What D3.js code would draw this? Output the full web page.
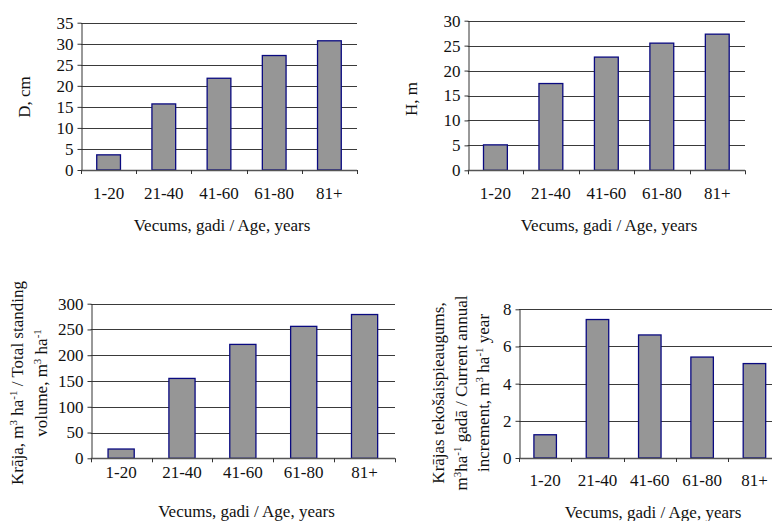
<!DOCTYPE html>
<html>
<head>
<meta charset="utf-8">
<script src="https://cdn.jsdelivr.net/npm/d3@7"></script>
<style>
  body { margin: 0; background: #fff; }
  svg { display: block; }
  text { font-family: "Liberation Serif", "Times New Roman", serif; fill: #111; }
</style>
</head>
<body>
<div id="chart"></div>
<script>
const ageClasses = ["1-20", "21-40", "41-60", "61-80", "81+"];
const diameter = [3.6, 15.7, 21.8, 27.2, 30.7];
const height = [5.1, 17.4, 22.7, 25.5, 27.3];
const volume = [18, 155, 221, 256, 279];
const increment = [1.25, 7.45, 6.62, 5.43, 5.08];

const diameterTicks = [0, 5, 10, 15, 20, 25, 30, 35];
const heightTicks = [0, 5, 10, 15, 20, 25, 30];
const volumeTicks = [0, 50, 100, 150, 200, 250, 300];
const incrementTicks = [0, 2, 4, 6, 8];

const xTitle = "Vecums, gadi / Age, years";
const fontSize = 17;

// each y title is a list of lines, each line a list of [text, isSuperscript]
const panels = [
  { values: diameter, ticks: diameterTicks,
    box: { left: 81, right: 357, top: 22.7, bottom: 170 },
    labelDy: 23, titleDy: 55, titleX: 222,
    yTitle: [[["D, cm", false]]], yTitleX: [24], yTitleY: 97 },
  { values: height, ticks: heightTicks,
    box: { left: 467.7, right: 745, top: 20.7, bottom: 170.3 },
    labelDy: 23, titleDy: 55, titleX: 609,
    yTitle: [[["H, m", false]]], yTitleX: [410.7], yTitleY: 99 },
  { values: volume, ticks: volumeTicks,
    box: { left: 90.7, right: 395, top: 303.7, bottom: 458.3 },
    labelDy: 13.5, titleDy: 53, titleX: 246.5,
    yTitle: [
      [["Krāja, m", false], ["3", true], [" ha", false], ["-1", true], [" / Total standing", false]],
      [["volume, m", false], ["3", true], [" ha", false], ["-1", true]]
    ], yTitleX: [17.5, 41.5], yTitleY: 383 },
  { values: increment, ticks: incrementTicks,
    box: { left: 519, right: 780.6, top: 309.3, bottom: 458 },
    labelDy: 22, titleDy: 53.7, titleX: 653,
    yTitle: [
      [["Krājas tekošaispieaugums,", false]],
      [["m", false], ["3", true], ["ha", false], ["-1", true], [" gadā / Current annual", false]],
      [["increment, m", false], ["3", true], [" ha", false], ["-1", true], ["  year", false]]
    ], yTitleX: [438.5, 461, 483.5], yTitleY: 393 }
];

const svg = d3.select("#chart")
  .append("svg")
  .attr("width", 772)
  .attr("height", 521);

panels.forEach(p => {
  const b = p.box;
  const x = d3.scaleBand()
    .domain(ageClasses)
    .range([b.left, b.right])
    .paddingInner(0.57)
    .paddingOuter(0.285);

  const y = d3.scaleLinear()
    .domain([0, d3.max(p.ticks)])
    .range([b.bottom, b.top]);

  const g = svg.append("g");

  // gridlines
  g.selectAll("line.grid")
    .data(p.ticks.filter(t => t > 0))
    .enter()
    .append("line")
    .attr("class", "grid")
    .attr("x1", b.left)
    .attr("x2", b.right)
    .attr("y1", d => Math.round(y(d)) + 0.5)
    .attr("y2", d => Math.round(y(d)) + 0.5)
    .attr("stroke", "#3a3a3a")
    .attr("stroke-width", 1);

  // bars
  g.selectAll("rect.bar")
    .data(p.values)
    .enter()
    .append("rect")
    .attr("class", "bar")
    .attr("x", (d, i) => x(ageClasses[i]))
    .attr("width", x.bandwidth())
    .attr("y", d => y(d))
    .attr("height", d => y(0) - y(d))
    .attr("fill", "#969696")
    .attr("stroke", "#0a0a80")
    .attr("stroke-width", 1.3);

  // y axis
  const yAxis = g.append("g")
    .attr("transform", `translate(${Math.round(b.left) + 0.5},0)`)
    .call(d3.axisLeft(y).tickValues(p.ticks).tickSize(4).tickPadding(4).tickSizeOuter(0));
  yAxis.select(".domain").attr("stroke", "#333");
  yAxis.selectAll(".tick line").attr("stroke", "#333");
  yAxis.selectAll(".tick text")
    .attr("font-size", fontSize)
    .attr("fill", "#111")
    .attr("font-family", "Liberation Serif, Times New Roman, serif");

  // x axis line with ticks at category boundaries
  g.append("line")
    .attr("x1", b.left)
    .attr("x2", b.right)
    .attr("y1", Math.round(b.bottom) + 0.5)
    .attr("y2", Math.round(b.bottom) + 0.5)
    .attr("stroke", "#555")
    .attr("stroke-width", 1.3);

  const bounds = d3.range(ageClasses.length + 1).map(i => x.range()[0] + i * x.step());
  g.selectAll("line.xtick")
    .data(bounds)
    .enter()
    .append("line")
    .attr("class", "xtick")
    .attr("x1", d => Math.round(d) + 0.5)
    .attr("x2", d => Math.round(d) + 0.5)
    .attr("y1", b.bottom)
    .attr("y2", b.bottom + 4)
    .attr("stroke", "#333");

  g.selectAll("text.xlabel")
    .data(ageClasses)
    .enter()
    .append("text")
    .attr("class", "xlabel")
    .attr("x", d => x(d) + x.bandwidth() / 2)
    .attr("y", b.bottom + p.labelDy)
    .attr("dy", "0.35em")
    .attr("text-anchor", "middle")
    .attr("font-size", fontSize)
    .text(d => d);

  g.append("text")
    .attr("x", p.titleX)
    .attr("y", b.bottom + p.titleDy)
    .attr("dy", "0.35em")
    .attr("text-anchor", "middle")
    .attr("font-size", fontSize)
    .text(xTitle);

  // y title, rotated, possibly multiline with superscripts
  p.yTitle.forEach((line, li) => {
    const t = g.append("text")
      .attr("transform", `translate(${p.yTitleX[li]},${p.yTitleY}) rotate(-90)`)
      .attr("text-anchor", "middle")
      .attr("dy", "0.35em")
      .attr("font-size", fontSize);
    line.forEach(([s, sup]) => {
      t.append("tspan")
        .attr("baseline-shift", sup ? "super" : null)
        .attr("font-size", sup ? 11 : fontSize)
        .text(s);
    });
  });
});
</script>
</body>
</html>
